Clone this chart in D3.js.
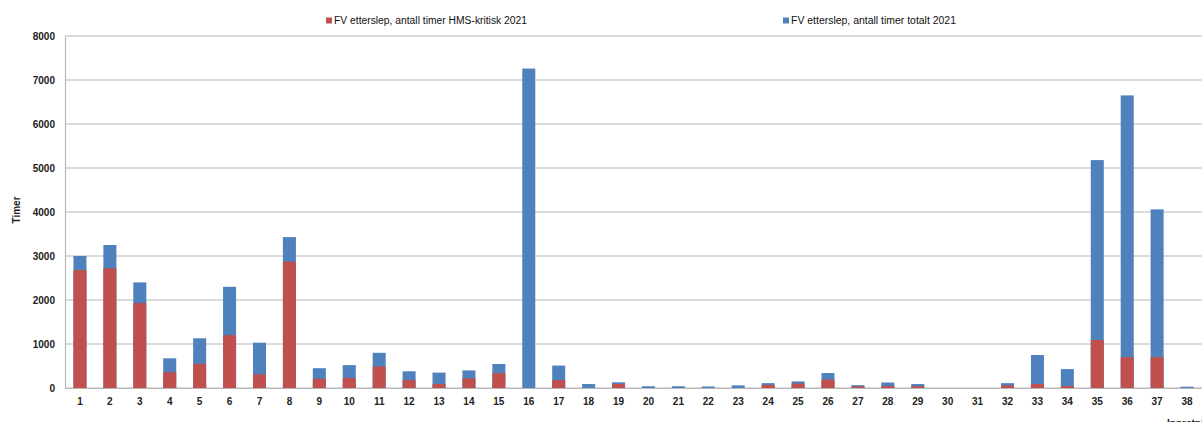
<!DOCTYPE html>
<html>
<head>
<meta charset="utf-8">
<script src="https://cdn.jsdelivr.net/npm/d3@7"></script>
<style>
  html, body { margin: 0; padding: 0; background: #fff; }
  svg { display: block; }
  text { font-family: "Liberation Sans", Arial, sans-serif; }
</style>
</head>
<body>
<div id="chart"></div>
<script>
// Innretning 1..38
const categories = d3.range(1, 39).map(String);

// FV etterslep, antall timer HMS-kritisk 2021
const hmsKritisk = [2680, 2720, 1930, 360, 550, 1200, 310, 2870, 210, 230,
                    490, 180, 90, 220, 340, 0, 180, 0, 90, 0,
                    0, 0, 0, 70, 100, 190, 35, 45, 40, 0,
                    0, 60, 90, 45, 1090, 700, 700, 0];

// FV etterslep, antall timer totalt 2021
const totalt = [3000, 3250, 2400, 675, 1130, 2300, 1030, 3430, 450, 520,
                800, 380, 350, 400, 545, 7260, 510, 90, 130, 40,
                40, 35, 60, 110, 150, 340, 65, 125, 90, 0,
                0, 110, 750, 430, 5180, 6650, 4060, 30];

const yTicks = [0, 1000, 2000, 3000, 4000, 5000, 6000, 7000, 8000];

const seriesNames = ["FV etterslep, antall timer HMS-kritisk 2021",
                     "FV etterslep, antall timer totalt 2021"];
const colors = ["#C0504D", "#4F81BD"];

const W = 1202, H = 422;
const plot = { left: 65, right: 1202, top: 36, bottom: 388 };

const svg = d3.select("#chart").append("svg")
  .attr("width", W).attr("height", H);

const x = d3.scaleBand()
  .domain(categories)
  .range([plot.left, plot.right])
  .paddingInner(0.565)
  .paddingOuter(0.2825);

const y = d3.scaleLinear()
  .domain([0, 8000])
  .range([plot.bottom, plot.top]);

// horizontal gridlines
svg.append("g")
  .selectAll("line")
  .data(yTicks)
  .join("line")
  .attr("x1", plot.left).attr("x2", plot.right)
  .attr("y1", d => y(d)).attr("y2", d => y(d))
  .attr("stroke", "#B8B8B8").attr("stroke-width", 1.2);

// y axis
const yAxis = svg.append("g")
  .attr("transform", `translate(${plot.left},0)`)
  .call(d3.axisLeft(y).tickValues(yTicks).tickSize(0).tickPadding(10).tickFormat(d3.format("d")));
yAxis.select(".domain").attr("stroke", "#B8B8B8").attr("stroke-width", 1.2);
yAxis.selectAll("text")
  .attr("font-size", 10).attr("font-weight", "bold").attr("fill", "#222")
  .attr("font-family", "Liberation Sans, Arial, sans-serif");

// totals behind, HMS-critical hours in front
svg.append("g")
  .selectAll("rect")
  .data(categories.map((c, i) => ({ c, v: totalt[i] })))
  .join("rect")
  .attr("x", d => x(d.c))
  .attr("width", x.bandwidth())
  .attr("y", d => y(d.v))
  .attr("height", d => y(0) - y(d.v))
  .attr("fill", colors[1]);

svg.append("g")
  .selectAll("rect")
  .data(categories.map((c, i) => ({ c, v: hmsKritisk[i] })))
  .join("rect")
  .attr("x", d => x(d.c))
  .attr("width", x.bandwidth())
  .attr("y", d => y(d.v))
  .attr("height", d => y(0) - y(d.v))
  .attr("fill", colors[0]);

// x axis
const xAxis = svg.append("g")
  .attr("transform", `translate(0,${plot.bottom})`)
  .call(d3.axisBottom(x).tickSize(0).tickPadding(10));
xAxis.select(".domain").attr("stroke", "#B8B8B8").attr("stroke-width", 1.2);
xAxis.selectAll("text")
  .attr("font-size", 10).attr("font-weight", "bold").attr("fill", "#222")
  .attr("font-family", "Liberation Sans, Arial, sans-serif");

// axis titles
svg.append("text")
  .attr("transform", "translate(20,210) rotate(-90)")
  .attr("text-anchor", "middle")
  .attr("font-size", 10).attr("font-weight", "bold").attr("fill", "#222")
  .text("Timer");

svg.append("text")
  .attr("x", 1167).attr("y", 427)
  .attr("font-size", 10).attr("font-weight", "bold").attr("fill", "#222")
  .text("Innretning");

// legend
const legendItems = [
  { x: 326, w: 193 },
  { x: 783, w: 165 }
];
const legend = svg.append("g");
legendItems.forEach((it, i) => {
  legend.append("rect")
    .attr("x", it.x).attr("y", 17.5)
    .attr("width", 6).attr("height", 6)
    .attr("fill", colors[i]);
  legend.append("text")
    .attr("x", it.x + 8).attr("y", 24)
    .attr("font-size", 10).attr("fill", "#111")
    .attr("textLength", it.w).attr("lengthAdjust", "spacingAndGlyphs")
    .text(seriesNames[i]);
});
</script>
</body>
</html>
